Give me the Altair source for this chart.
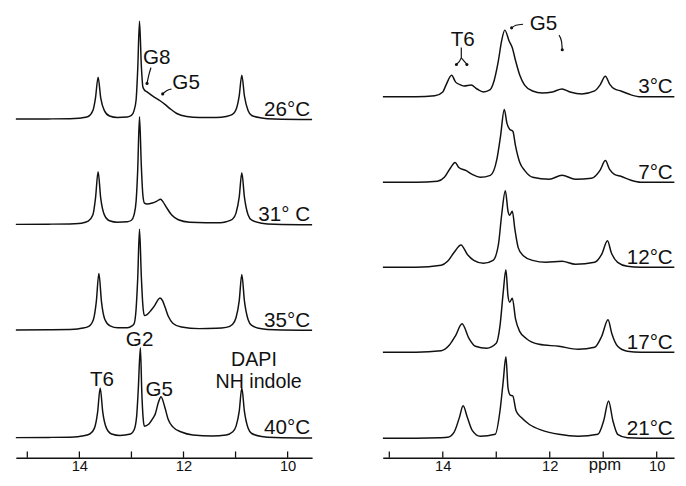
import altair as alt
import pandas as pd

FONT = "Liberation Sans"

# ---------------- left panel (26-40 °C) ----------------
L_temps = ["26°C", "31° C", "35°C", "40°C"]
L_base = [352.0, 244.7, 137.0, 27.3]

L26_ppm = [15.22, 14.6, 14.1, 13.96, 13.83, 13.74, 13.69, 13.64, 13.59, 13.52, 13.42, 13.27, 13.08, 13.00, 12.95, 12.91, 12.88, 12.845, 12.81, 12.78, 12.75, 12.70, 12.57, 12.45, 12.35, 12.26, 12.13, 11.94, 11.69, 11.37, 11.18, 11.06, 10.99, 10.93, 10.88, 10.83, 10.76, 10.69, 10.50, 10.25, 9.53]
L26_h = [0.3, 0.5, 1, 1.5, 3, 9, 22, 43, 22, 9, 3.5, 2, 2.5, 4, 9, 20, 50, 100, 55, 33, 30, 28, 23, 19, 15, 11, 6, 3, 2, 2, 3, 5, 10, 24, 45, 24, 9, 4, 1.5, 0.5, 0]

L31_ppm = [15.22, 14.6, 14.1, 13.96, 13.83, 13.74, 13.69, 13.64, 13.59, 13.52, 13.42, 13.27, 13.08, 13.00, 12.95, 12.91, 12.88, 12.845, 12.81, 12.78, 12.75, 12.70, 12.60, 12.51, 12.44, 12.39, 12.32, 12.23, 12.10, 11.88, 11.57, 11.30, 11.18, 11.06, 10.99, 10.93, 10.88, 10.83, 10.76, 10.69, 10.50, 10.25, 9.53]
L31_h = [0.3, 0.5, 1, 1.5, 3.5, 10, 27, 54, 27, 10, 4, 2.5, 3, 4.5, 10, 24, 55, 110, 60, 30, 22, 21, 22, 24, 26, 23, 17, 10, 5, 2.5, 2, 2, 3, 5.5, 12, 28, 53, 28, 10, 4.5, 1.5, 0.5, 0]

L35_ppm = [15.22, 14.6, 14.1, 13.96, 13.82, 13.73, 13.675, 13.625, 13.575, 13.51, 13.41, 13.26, 13.08, 12.99, 12.95, 12.91, 12.88, 12.845, 12.81, 12.78, 12.752, 12.70, 12.63, 12.545, 12.49, 12.451, 12.40, 12.357, 12.29, 12.20, 12.04, 11.70, 11.37, 11.18, 11.06, 10.99, 10.93, 10.88, 10.83, 10.76, 10.69, 10.50, 10.25, 9.53]
L35_h = [0.3, 0.5, 1, 2, 4, 11, 29, 58, 29, 11, 4.5, 2.5, 2.7, 4.5, 6.5, 22, 52, 103, 55, 25, 15, 16, 20, 26, 31, 33, 30, 24, 14, 7, 3.3, 1.7, 2, 3, 6, 13, 30, 57, 30, 11, 5, 1.5, 0.5, 0]

L40_ppm = [15.22, 14.6, 14.1, 13.95, 13.80, 13.71, 13.65, 13.60, 13.55, 13.48, 13.38, 13.22, 13.016, 12.95, 12.90, 12.87, 12.828, 12.80, 12.775, 12.752, 12.67, 12.577, 12.545, 12.483, 12.432, 12.357, 12.295, 12.20, 12.04, 11.82, 11.45, 11.18, 11.06, 10.99, 10.93, 10.88, 10.83, 10.76, 10.69, 10.50, 10.25, 9.53]
L40_h = [0.3, 0.5, 1, 2, 4, 10, 26, 51, 26, 10, 4, 2.5, 4, 8, 22, 48, 92, 45, 20, 12, 14, 21, 24, 36, 42, 31, 19, 11, 6, 3, 2, 3, 6, 12, 27, 51, 27, 10, 4.5, 1.5, 0.5, 0]

L_spectra = [(L26_ppm, L26_h), (L31_ppm, L31_h), (L35_ppm, L35_h), (L40_ppm, L40_h)]

L_labels = ["G8", "G5", "T6", "G2", "G5", "DAPI", "NH indole"]
L_label_ppm = [12.513, 11.95, 13.566, 12.843, 12.466, 10.646, 10.557]
L_label_y = [408.7, 383.0, 80.7, 120.7, 69.7, 100.5, 78.5]
L_label_size = [21, 21, 21, 21, 21, 20, 20]

L_arrow_id = ["g8", "g8", "g8", "g5", "g5", "g5"]
L_arrow_ppm = [12.626, 12.67, 12.70, 12.23, 12.325, 12.40]
L_arrow_y = [404.7, 396.3, 388.7, 383.0, 381.3, 378.0]
L_dot_ppm = [12.70, 12.40]
L_dot_y = [388.7, 378.0]

# ---------------- right panel (3-21 °C) ----------------
R_temps = ["3°C", "7°C", "12°C", "17°C", "21°C"]
R_base = [375.0, 288.0, 201.3, 114.7, 27.0]

R3_ppm = [15.12, 14.5, 14.15, 14.0, 13.94, 13.835, 13.76, 13.66, 13.60, 13.47, 13.36, 13.24, 13.12, 13.06, 12.96, 12.90, 12.84, 12.76, 12.70, 12.64, 12.56, 12.47, 12.32, 12.14, 11.95, 11.77, 11.62, 11.40, 11.16, 11.06, 10.96, 10.88, 10.79, 10.67, 10.48, 10.30, 9.67]
R3_h = [0, 0, 1, 5, 12, 22, 15, 12, 11, 12, 8, 5, 7, 13, 37, 57, 68, 57, 50, 37, 22, 12, 6, 4, 5, 8, 5, 3, 6, 12, 21, 13, 8, 6, 2, 0, 0]

R7_ppm = [15.12, 14.5, 14.1, 13.97, 13.85, 13.77, 13.70, 13.57, 13.45, 13.30, 13.11, 12.99, 12.92, 12.85, 12.80, 12.75, 12.69, 12.64, 12.56, 12.47, 12.32, 12.01, 11.77, 11.52, 11.22, 11.06, 10.96, 10.88, 10.79, 10.67, 10.48, 10.30, 9.67]
R7_h = [0, 0, 1, 5, 15, 20, 15, 12, 8, 5, 7, 23, 47, 74, 60, 54, 52, 37, 20, 12, 5, 3, 7, 3, 4, 12, 22, 13, 8, 6, 2, 0, 0]

R12_ppm = [15.12, 14.5, 14.03, 13.91, 13.79, 13.66, 13.54, 13.42, 13.24, 13.06, 12.96, 12.90, 12.83, 12.78, 12.75, 12.70, 12.65, 12.59, 12.50, 12.32, 12.07, 11.77, 11.52, 11.16, 11.03, 10.92, 10.85, 10.73, 10.55, 10.3, 9.67]
R12_h = [0, 0, 2, 6, 15, 22.7, 13, 7, 4, 7, 23, 53, 78, 57, 53, 57, 38, 20, 12, 7, 5, 6, 3, 5, 13, 27, 15, 5, 1, 0, 0]

R17_ppm = [15.12, 14.5, 14.03, 13.88, 13.76, 13.64, 13.51, 13.39, 13.18, 13.00, 12.93, 12.87, 12.82, 12.78, 12.75, 12.70, 12.64, 12.56, 12.44, 12.20, 11.83, 11.47, 11.16, 11.03, 10.91, 10.84, 10.73, 10.55, 10.3, 9.67]
R17_h = [0, 0, 1.5, 7, 17, 29, 14, 6, 4, 9, 27, 61, 84, 57, 51, 55, 34, 21, 14, 8, 6, 3, 5, 16, 33, 19, 6, 1, 0, 0]

R21_ppm = [15.12, 14.5, 14.05, 13.91, 13.79, 13.69, 13.62, 13.54, 13.45, 13.30, 13.02, 12.93, 12.87, 12.82, 12.78, 12.74, 12.69, 12.63, 12.53, 12.38, 12.14, 11.83, 11.47, 11.10, 10.99, 10.90, 10.82, 10.73, 10.55, 10.3, 9.67]
R21_h = [0, 0, 0.5, 1, 6, 21, 33, 21, 8, 2, 4, 28, 58, 83, 51, 44, 43, 28, 21, 14, 8, 4, 2, 4, 18, 38, 18, 4, 0.5, 0, 0]

R_spectra = [(R3_ppm, R3_h), (R7_ppm, R7_h), (R12_ppm, R12_h), (R17_ppm, R17_h), (R21_ppm, R21_h)]

R_labels = ["T6", "G5"]
R_label_ppm = [13.628, 12.115]
R_label_y = [427.3, 443.0]
R_label_size = [21, 21]

R_arrow_id = ["fa", "fa", "fa", "fb", "fb", "dash", "dash", "dash", "arr", "arr", "arr"]
R_arrow_ppm = [13.745, 13.654, 13.654, 13.549, 13.654, 12.713, 12.633, 12.499, 11.827, 11.779, 11.766]
R_arrow_y = [408.0, 414.7, 425.3, 408.0, 414.7, 445.3, 448.0, 449.0, 438.0, 431.3, 423.0]
R_dot_ppm = [13.745, 13.549, 12.713, 11.766]
R_dot_y = [408.0, 408.0, 445.3, 423.0]

# axis
tick_values = [15, 14, 13, 12, 11, 10]
label_values = [14, 12, 10]
unit_label = "ppm"
unit_label_ppm = 10.968
unit_label_y = -5.0

Y_TOP = 460.0      # y value at the top of each panel
Y_AXIS = 7.0       # y value where the ppm axis sits
TICK_LEN = 6.5


def panel(spectra, bases, temps, labels, lab_ppm, lab_y, lab_size, arr_id, arr_ppm, arr_y,
          dot_ppm, dot_y, domain, width, temp_ppm, unit=None):
    rows = []
    for (pp, hh), b, t in zip(spectra, bases, temps):
        for i, (p, h) in enumerate(zip(pp, hh)):
            rows.append({"ppm": p, "y": b + h, "s": t, "o": i})
    spec_df = pd.DataFrame(rows)
    temp_df = pd.DataFrame({"ppm": [temp_ppm] * len(temps), "y": [b + 3.5 for b in bases], "t": temps})
    lab_df = pd.DataFrame({"ppm": lab_ppm, "y": lab_y, "t": labels, "fs": lab_size})
    arr_df = pd.DataFrame({"ppm": arr_ppm, "y": arr_y, "g": arr_id, "o": list(range(len(arr_id)))})
    dot_df = pd.DataFrame({"ppm": dot_ppm, "y": dot_y})
    tick_df = pd.DataFrame({"ppm": tick_values, "y": [Y_AXIS] * len(tick_values),
                            "y2": [Y_AXIS + TICK_LEN] * len(tick_values)})

    xs = alt.Scale(domain=[domain[1], domain[0]], reverse=True, nice=False, zero=False)
    ys = alt.Scale(domain=[Y_AXIS, Y_TOP], nice=False, zero=False)
    xax = alt.Axis(values=label_values, ticks=False, tickSize=0, grid=False, title=None,
                   domain=True, domainColor="#111", domainWidth=1.5, labelFont=FONT, labelFontSize=15,
                   labelColor="#111", labelPadding=1, labelFlush=False, labelOverlap=False)

    def X():
        return alt.X("ppm:Q", scale=xs, axis=xax)

    def Y():
        return alt.Y("y:Q", scale=ys, axis=None)

    lines = alt.Chart(spec_df).mark_line(color="#111", strokeWidth=1.5, interpolate="monotone").encode(
        x=X(), y=Y(), detail="s:N", order="o:Q")
    arrows = alt.Chart(arr_df).mark_line(color="#111", strokeWidth=1.2, interpolate="monotone").encode(
        x=X(), y=Y(), detail="g:N", order="o:Q")
    dots = alt.Chart(dot_df).mark_point(filled=True, color="#111", size=10, opacity=1).encode(x=X(), y=Y())
    ticks = alt.Chart(tick_df).mark_rule(color="#111", strokeWidth=1.3).encode(
        x=X(), y=Y(), y2="y2:Q")
    temps_t = alt.Chart(temp_df).mark_text(align="right", baseline="alphabetic", font=FONT,
                                           fontSize=21, color="#111").encode(x=X(), y=Y(), text="t:N")
    labs_t = alt.Chart(lab_df).mark_text(align="center", baseline="alphabetic", font=FONT,
                                         color="#111").encode(
        x=X(), y=Y(), text="t:N", size=alt.Size("fs:Q", scale=None, legend=None))
    layers = [lines, arrows, dots, ticks, temps_t, labs_t]
    if unit is not None:
        unit_df = pd.DataFrame({"ppm": [unit[1]], "y": [unit[2]], "t": [unit[0]]})
        layers.append(alt.Chart(unit_df).mark_text(align="center", baseline="alphabetic", font=FONT,
                                                   fontSize=17, color="#111").encode(x=X(), y=Y(), text="t:N"))
    return alt.layer(*layers).properties(width=width, height=Y_TOP - Y_AXIS)


left = panel(L_spectra, L_base, L_temps, L_labels, L_label_ppm, L_label_y, L_label_size, L_arrow_id,
             L_arrow_ppm, L_arrow_y, L_dot_ppm, L_dot_y, (15.22, 9.53), 302, 9.569)
right = panel(R_spectra, R_base, R_temps, R_labels, R_label_ppm, R_label_y, R_label_size, R_arrow_id,
              R_arrow_ppm, R_arrow_y, R_dot_ppm, R_dot_y, (15.123, 9.675), 297, 9.70,
              unit=(unit_label, unit_label_ppm, unit_label_y))

chart = alt.hconcat(left, right, spacing=66).properties(
    padding={"left": 5, "right": 0, "top": 0, "bottom": 0},
    background="white",
).configure_view(stroke=None)

chart.save("out.html", embed_options={"renderer": "svg", "actions": False})
